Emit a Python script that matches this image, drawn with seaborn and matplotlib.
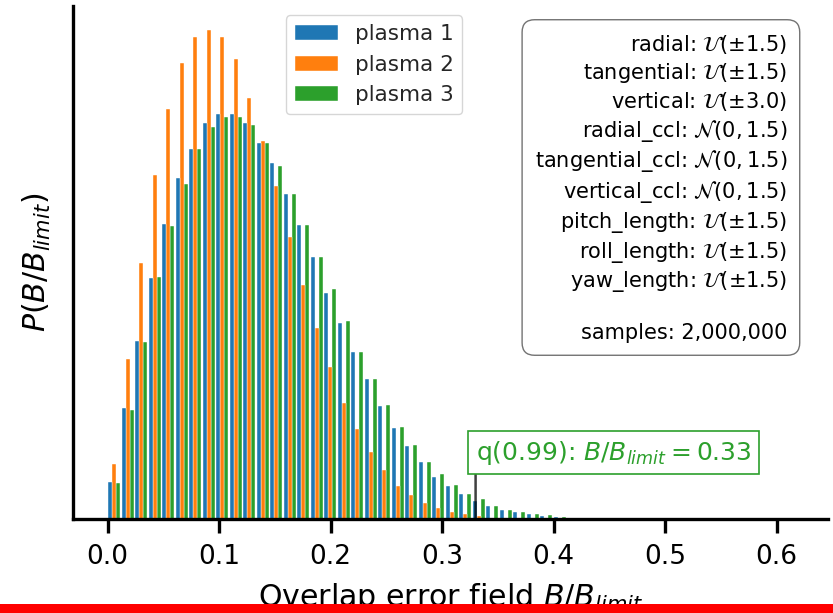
import numpy as np
import pandas as pd
import matplotlib
matplotlib.use("Agg")
import matplotlib.pyplot as plt
from matplotlib.patches import Rectangle
import seaborn as sns

# Histogram densities of the overlap error field, one value per bin
series_names = ["plasma 1", "plasma 2", "plasma 3"]
series_colors = ["#1f77b4", "#ff7f0e", "#2ca02c"]

plasma_1 = [0.51, 1.52, 2.45, 3.31, 4.05, 4.69, 5.09, 5.44, 5.57, 5.56,
            5.44, 5.17, 4.89, 4.47, 4.04, 3.60, 3.10, 2.69, 2.29, 1.92,
            1.55, 1.25, 1.00, 0.78, 0.58, 0.45, 0.34, 0.25, 0.18, 0.13,
            0.10, 0.07, 0.045, 0.03, 0.018, 0.014, 0.01, 0.005]
plasma_2 = [0.75, 2.20, 3.52, 4.73, 5.64, 6.26, 6.62, 6.72, 6.62, 6.32,
            5.79, 5.20, 4.57, 3.87, 3.22, 2.62, 2.09, 1.60, 1.23, 0.92,
            0.67, 0.46, 0.33, 0.22, 0.15, 0.10, 0.07, 0.037, 0.02, 0.011,
            0.005]
plasma_3 = [0.50, 1.50, 2.43, 3.32, 4.02, 4.61, 5.09, 5.39, 5.53, 5.53,
            5.42, 5.17, 4.85, 4.47, 4.04, 3.60, 3.16, 2.72, 2.29, 1.92,
            1.57, 1.27, 1.01, 0.79, 0.62, 0.47, 0.35, 0.27, 0.18, 0.13,
            0.10, 0.065, 0.05, 0.03, 0.02, 0.014, 0.01, 0.007, 0.004]

bin_width = 0.0121
n_bins = 50
x_ticks = [0.0, 0.1, 0.2, 0.3, 0.4, 0.5, 0.6]

quantile_level = 0.99
quantile_value = 0.33
n_samples = 2_000_000

param_names = ["radial", "tangential", "vertical", "radial_ccl",
               "tangential_ccl", "vertical_ccl", "pitch_length",
               "roll_length", "yaw_length"]
param_dists = [r"$\mathcal{U}(\pm1.5)$", r"$\mathcal{U}(\pm1.5)$",
               r"$\mathcal{U}(\pm3.0)$", r"$\mathcal{N}(0, 1.5)$",
               r"$\mathcal{N}(0, 1.5)$", r"$\mathcal{N}(0, 1.5)$",
               r"$\mathcal{U}(\pm1.5)$", r"$\mathcal{U}(\pm1.5)$",
               r"$\mathcal{U}(\pm1.5)$"]

sns.set_theme(style="ticks")
plt.rcParams["font.family"] = ["DejaVu Sans"]
plt.rcParams["mathtext.fontset"] = "dejavusans"

# long-form table: one row per (plasma, bin)
edges = [i * bin_width for i in range(n_bins + 1)]
rows = []
for name, vals in zip(series_names, [plasma_1, plasma_2, plasma_3]):
    for i, v in enumerate(vals):
        rows.append({"plasma": name, "x": edges[i] + bin_width / 2, "density": v})
df = pd.DataFrame(rows)

W, H = 833, 613
fig = plt.figure(figsize=(W / 100, H / 100), dpi=100)
ax = fig.add_axes([73 / W, 94 / H, 755 / W, 513.5 / H])

sns.histplot(data=df, x="x", weights="density", hue="plasma",
             hue_order=series_names, palette=series_colors, bins=edges,
             multiple="dodge", shrink=0.9, stat="count", alpha=1,
             edgecolor="white", linewidth=0.3, ax=ax)

ymax = max(max(plasma_1), max(plasma_2), max(plasma_3))
ax.set_ylim(0, ymax * 1.05)
ax.set_xlim(-0.031, 0.646)
ax.set_xticks(x_ticks)
ax.set_xticklabels([f"{t:.1f}" for t in x_ticks])
ax.set_yticks([])

sns.despine(ax=ax)
for side in ("left", "bottom"):
    ax.spines[side].set_linewidth(2.4)
    ax.spines[side].set_color("black")
ax.tick_params(axis="x", length=10, width=2.4, labelsize=19,
               color="black", labelcolor="black", pad=8.2, direction="out")

ax.set_xlabel(r"Overlap error field $B/B_{limit}$", fontsize=21.6, color="black")
ax.xaxis.set_label_coords(0.5, -0.1206)
ax.set_ylabel(r"$P(B/B_{limit})$", fontsize=21.6, color="black")
ax.yaxis.set_label_coords(-0.026, 0.5)

sns.move_legend(ax, "upper left", bbox_to_anchor=(0.282, 0.981), title=None,
                fontsize=15.5, frameon=True, borderaxespad=0,
                framealpha=0.8, edgecolor="0.8", fancybox=True)

# parameter distributions
info_lines = [f"{n}: {d}" for n, d in zip(param_names, param_dists)]
info_lines += ["", f"samples: {n_samples:,}"]
ax.text(0.946, 0.946, "\n".join(info_lines), transform=ax.transAxes,
        ha="right", va="top", fontsize=15, color="black", linespacing=1.26,
        bbox=dict(boxstyle="round,pad=0.6", fc="white", ec="0.45", lw=1))

# quantile marker
green = series_colors[2]
ax.annotate(f"q({quantile_level}): $B/B_{{limit}} = {quantile_value}$",
            xy=(quantile_value, 0), xycoords="data",
            xytext=(quantile_value, 0.1022), textcoords=("data", "axes fraction"),
            ha="left", va="bottom", fontsize=18, color=green,
            bbox=dict(boxstyle="square,pad=0.3", fc="white", ec=green, lw=1.2),
            arrowprops=dict(arrowstyle="-", color="black", alpha=0.75, lw=1.8,
                            shrinkA=0, shrinkB=0, relpos=(0, 0)))

fig.add_artist(Rectangle((0, 0), 1, 9 / H, transform=fig.transFigure,
                         facecolor="red", edgecolor="none", zorder=10))

fig.savefig("out.png", dpi=100)
